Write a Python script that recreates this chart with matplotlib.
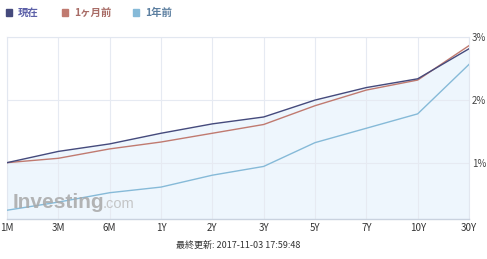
import matplotlib.pyplot as plt
import matplotlib.patches as mpatches

plt.rcParams['font.family'] = ['Noto Sans CJK JP', 'DejaVu Sans']

tenors = ['1M', '3M', '6M', '1Y', '2Y', '3Y', '5Y', '7Y', '10Y', '30Y']
now = [1.00, 1.18, 1.30, 1.47, 1.62, 1.73, 2.00, 2.20, 2.34, 2.82]
month_ago = [1.00, 1.07, 1.22, 1.33, 1.47, 1.61, 1.91, 2.16, 2.32, 2.87]
year_ago = [0.24, 0.37, 0.52, 0.61, 0.80, 0.94, 1.32, 1.55, 1.78, 2.57]
series_names = ['現在', '1ヶ月前', '1年前']
yticks = [1, 2, 3]
updated = '最終更新: 2017-11-03 17:59:48'

c_now = '#454a7c'
c_month = '#c07a70'
c_year = '#86bad8'

fig = plt.figure(figsize=(4.87, 2.59), dpi=100)
ax = fig.add_axes([7 / 487, 40 / 259, 462 / 487, 181.5 / 259])

x = list(range(len(tenors)))
ax.fill_between(x, now, 0, color='#eef6fd', zorder=1)
ax.plot(x, year_ago, color=c_year, lw=1.0, zorder=3)
ax.plot(x, month_ago, color=c_month, lw=1.0, zorder=3)
ax.plot(x, now, color=c_now, lw=1.0, zorder=4)

ax.set_xlim(0, len(tenors) - 1)
ax.set_ylim(0.1, 3.0)
ax.set_xticks(x)
ax.set_xticklabels(tenors, fontsize=7, color='#333333')
ax.set_yticks(yticks)
ax.set_yticklabels([f'{v}%' for v in yticks], fontsize=7, color='#444444')
ax.yaxis.tick_right()
ax.tick_params(length=0, pad=3)
ax.tick_params(axis='y', pad=2)
ax.grid(True, color='#e6eaf2', lw=0.8, zorder=0)
for side in ['left', 'top', 'right']:
    ax.spines[side].set_color('#e2e7f0')
    ax.spines[side].set_linewidth(0.8)
ax.spines['bottom'].set_color('#c9d2df')
ax.spines['bottom'].set_linewidth(1.0)

# watermark
fig.text(13 / 487, (259 - 208) / 259, 'Investing', fontsize=15,
         fontweight='bold', color='#a8a8a8', alpha=0.85, va='baseline',
         family='Liberation Sans', zorder=2)
fig.text(103 / 487, (259 - 208) / 259, '.com', fontsize=10.5,
         color='#bdbdbd', alpha=0.85, va='baseline', family='Liberation Sans', zorder=2)

# legend
legend_items = [(6, c_now, '#5c60a8'), (62, c_month, '#a86c66'), (133, c_year, '#5c7fa0')]
for (px, sq, tc), name in zip(legend_items, series_names):
    fig.patches.append(mpatches.Rectangle((px / 487, (259 - 16) / 259), 6 / 487, 7 / 259,
                                          transform=fig.transFigure, color=sq))
    fig.text((px + 12) / 487, (259 - 12.5) / 259, name, fontsize=7.5, fontweight='bold',
             color=tc, va='center', ha='left')

fig.text(238 / 487, (259 - 245) / 259, updated, fontsize=6.5, color='#333333',
         ha='center', va='center')

fig.savefig('out.png', dpi=100)
